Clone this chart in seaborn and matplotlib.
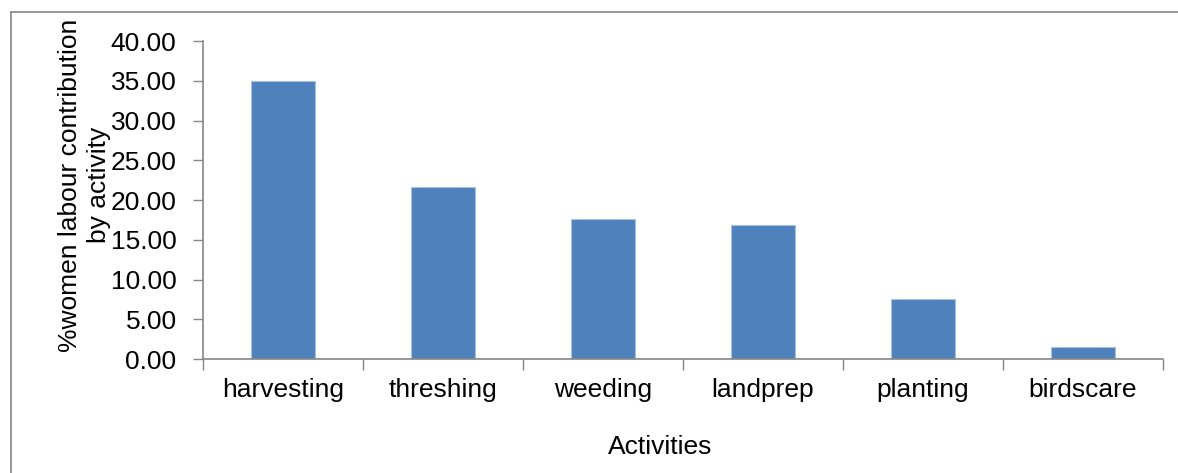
import matplotlib
matplotlib.use("Agg")
import matplotlib.pyplot as plt
import seaborn as sns
import pandas as pd
import numpy as np
from matplotlib.lines import Line2D
from matplotlib.ticker import FormatStrFormatter, FixedLocator

categories = ["harvesting", "threshing", "weeding", "landprep", "planting", "birdscare"]
values = [35.0, 21.6, 17.55, 16.8, 7.6, 1.5]
y_ticks = [0, 5, 10, 15, 20, 25, 30, 35, 40]

sns.set_style("white")
plt.rcParams['font.family'] = ['Liberation Sans', 'DejaVu Sans']
plt.rcParams['text.color'] = 'black'
plt.rcParams['axes.labelcolor'] = 'black'
plt.rcParams['xtick.labelcolor'] = 'black'
plt.rcParams['ytick.labelcolor'] = 'black'

df = pd.DataFrame({"activity": categories, "pct": values})

fig = plt.figure(figsize=(11.78, 4.73), dpi=100)
ax = fig.add_axes([203/1178, 1 - 359/473, (1163-203)/1178, (359-41)/473])

sns.barplot(data=df, x="activity", y="pct", ax=ax, color="#4F81BD",
            width=0.4, saturation=1, edgecolor="#A9C1E0", linewidth=0.8)

spine_c = "#868686"
fs = 19
ax.set_xlim(-0.5, len(categories) - 0.5)
ax.set_ylim(0, 40)
ax.set_yticks(y_ticks)
ax.yaxis.set_major_formatter(FormatStrFormatter("%.2f"))
for s in ["top", "right"]:
    ax.spines[s].set_visible(False)
for s in ["left", "bottom"]:
    ax.spines[s].set_color(spine_c)
    ax.spines[s].set_linewidth(1.2)

ax.tick_params(axis="y", which="major", direction="out", length=7, width=1.0,
               color=spine_c, labelsize=fs, pad=12, left=True, labelcolor="black")
ax.tick_params(axis="x", which="major", length=0, labelsize=fs, pad=14, labelcolor="black")
ax.xaxis.set_minor_locator(FixedLocator(np.arange(-0.5, len(categories), 1.0)))
ax.tick_params(axis="x", which="minor", direction="out", length=8, width=1.0,
               color=spine_c, bottom=True)

ax.set_xlabel("Activities", fontsize=fs, color="black")
ax.xaxis.set_label_coords((660-203)/(1163-203), -(435-359)/(359-41))
ax.set_ylabel("%women labour contribution\nby activity", fontsize=fs, linespacing=1.28,
              color="black")
ax.yaxis.set_label_coords(-(203-111)/(1163-203), (359-185)/(359-41))
ax.grid(False)

# outer chart border (left and top)
fig.add_artist(Line2D([11/1178, 11/1178], [0, 1 - 12/473], transform=fig.transFigure,
                      color=spine_c, linewidth=1.2))
fig.add_artist(Line2D([11/1178, 1], [1 - 12/473, 1 - 12/473], transform=fig.transFigure,
                      color=spine_c, linewidth=1.2))

fig.savefig("out.png", dpi=100)
